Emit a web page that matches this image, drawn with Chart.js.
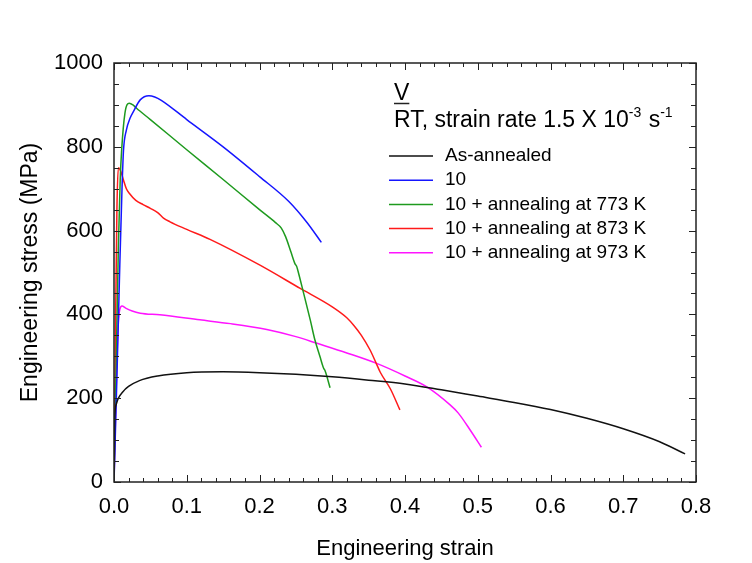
<!DOCTYPE html>
<html>
<head>
<meta charset="utf-8">
<script src="https://cdn.jsdelivr.net/npm/chart.js@4.4.0/dist/chart.umd.min.js"></script>
<style>
  html, body { margin: 0; padding: 0; background: #fff; }
  #wrap { width: 752px; height: 563px; }
</style>
</head>
<body>
<div id="wrap"><canvas id="chart" width="752" height="563"></canvas></div>
<script>
// tensile curves: engineering strain vs engineering stress (MPa)
const seriesLabels = ['As-annealed', '10', '10 + annealing at 773 K', '10 + annealing at 873 K', '10 + annealing at 973 K'];
const seriesColors = ['#111111', '#1515ff', '#1e9a1e', '#ff1a1a', '#ff14ff'];

const annealedStrain = [0, 0.001, 0.003, 0.006, 0.012, 0.02, 0.035, 0.06, 0.1, 0.15, 0.2, 0.25, 0.3, 0.35, 0.4, 0.45, 0.5, 0.55, 0.6, 0.65, 0.7, 0.75, 0.785];
const annealedStress = [0, 150, 185, 200, 215, 228, 242, 253, 261, 263, 261, 257, 251, 243, 234, 220, 205, 190, 173, 152, 127, 96, 67];

const rolledStrain = [0, 0.004, 0.008, 0.011, 0.013, 0.017, 0.022, 0.027, 0.036, 0.048, 0.056, 0.065, 0.1, 0.15, 0.2, 0.24, 0.265, 0.285];
const rolledStress = [0, 250, 520, 700, 790, 840, 868, 885, 912, 922, 919, 911, 865, 800, 729, 670, 620, 572];

const at773Strain = [0, 0.003, 0.006, 0.0085, 0.0105, 0.015, 0.021, 0.026, 0.031, 0.05, 0.1, 0.15, 0.2, 0.222, 0.23, 0.236, 0.243, 0.249, 0.251, 0.253, 0.26, 0.27, 0.276, 0.283, 0.288, 0.29, 0.297];
const at773Stress = [0, 280, 560, 720, 792, 880, 904, 900, 892, 865, 793, 722, 650, 619, 606, 585, 550, 520, 515, 503, 455, 385, 340, 300, 272, 266, 225];

const at873Strain = [0, 0.002, 0.004, 0.006, 0.009, 0.013, 0.017, 0.021, 0.03, 0.04, 0.05, 0.06, 0.068, 0.077, 0.1, 0.132, 0.2, 0.256, 0.3, 0.32, 0.33, 0.34, 0.352, 0.36, 0.366, 0.38, 0.393];
const at873Stress = [0, 350, 650, 750, 743, 721, 700, 689, 672, 662, 653, 643, 630, 621, 603, 579, 518, 462, 418, 392, 373, 350, 315, 285, 262, 222, 172];

const at973Strain = [0, 0.002, 0.004, 0.006, 0.008, 0.011, 0.016, 0.025, 0.036, 0.063, 0.118, 0.16, 0.21, 0.25, 0.279, 0.32, 0.361, 0.4, 0.43, 0.462, 0.473, 0.49, 0.505];
const at973Stress = [0, 150, 290, 380, 412, 420, 415, 408, 403, 399, 387, 378, 364, 347, 331, 308, 283, 253, 227, 184, 165, 123, 83];

const strainTicks = { min: 0, max: 0.8, step: 0.1, minor: 0.02 };
const stressTicks = { min: 0, max: 1000, step: 200, minor: 50 };

const headerTitle = 'V';
const headerCondition = ['RT, strain rate 1.5 X 10', '-3', ' s', '-1'];

const FONT = "'Liberation Sans', Arial, sans-serif";

const toPoints = (xs, ys) => xs.map((v, i) => ({ x: v, y: ys[i] }));
const curves = [
  toPoints(annealedStrain, annealedStress),
  toPoints(rolledStrain, rolledStress),
  toPoints(at773Strain, at773Stress),
  toPoints(at873Strain, at873Stress),
  toPoints(at973Strain, at973Stress)
];

// box frame, inward ticks on all four sides and the key in the upper right
const frameAndKey = {
  id: 'frameAndKey',
  afterDatasetsDraw(chart) {
    const { ctx, chartArea: a, scales: { x, y } } = chart;
    ctx.save();

    ctx.strokeStyle = '#222';
    ctx.lineWidth = 1.5;
    ctx.strokeRect(a.left, a.top, a.right - a.left, a.bottom - a.top);

    ctx.lineWidth = 1;
    ctx.beginPath();
    const nx = Math.round((strainTicks.max - strainTicks.min) / strainTicks.minor);
    const perX = Math.round(strainTicks.step / strainTicks.minor);
    for (let i = 0; i <= nx; i++) {
      const len = i % perX === 0 ? 7 : 4;
      const px = Math.round(x.getPixelForValue(strainTicks.min + i * strainTicks.minor)) + 0.5;
      ctx.moveTo(px, a.bottom); ctx.lineTo(px, a.bottom - len);
      ctx.moveTo(px, a.top); ctx.lineTo(px, a.top + len);
    }
    const ny = Math.round((stressTicks.max - stressTicks.min) / stressTicks.minor);
    const perY = Math.round(stressTicks.step / stressTicks.minor);
    for (let i = 0; i <= ny; i++) {
      const len = i % perY === 0 ? 7 : 5;
      const py = Math.round(y.getPixelForValue(stressTicks.min + i * stressTicks.minor)) + 0.5;
      ctx.moveTo(a.left, py); ctx.lineTo(a.left + len, py);
      ctx.moveTo(a.right, py); ctx.lineTo(a.right - len, py);
    }
    ctx.stroke();

    // key header
    const kx = a.left + 280;
    ctx.fillStyle = '#000';
    ctx.textAlign = 'left';
    ctx.textBaseline = 'alphabetic';
    ctx.font = '23px ' + FONT;
    ctx.fillText(headerTitle, kx, a.top + 37);
    const vw = ctx.measureText(headerTitle).width;
    ctx.lineWidth = 1.5;
    ctx.beginPath();
    ctx.moveTo(kx, a.top + 40.5); ctx.lineTo(kx + vw, a.top + 40.5);
    ctx.stroke();

    let cx = kx;
    const base = a.top + 64;
    headerCondition.forEach((part, i) => {
      const sup = i % 2 === 1;
      ctx.font = (sup ? '14px ' : '23px ') + FONT;
      ctx.fillText(part, cx, sup ? base - 10 : base);
      cx += ctx.measureText(part).width + (sup ? 1 : 0);
    });

    // key entries
    ctx.font = '19px ' + FONT;
    ctx.textBaseline = 'middle';
    seriesLabels.forEach((label, i) => {
      const ly = a.top + 93 + i * 24.2;
      ctx.strokeStyle = seriesColors[i];
      ctx.lineWidth = 1.5;
      ctx.beginPath();
      ctx.moveTo(a.left + 275, ly); ctx.lineTo(a.left + 319, ly);
      ctx.stroke();
      ctx.fillText(label, a.left + 331, ly);
    });

    ctx.restore();
  }
};

new Chart(document.getElementById('chart'), {
  type: 'line',
  data: {
    datasets: curves.map((pts, i) => ({
      label: seriesLabels[i],
      data: pts,
      borderColor: seriesColors[i],
      borderWidth: 1.5,
      pointRadius: 0,
      fill: false,
      cubicInterpolationMode: 'monotone'
    }))
  },
  options: {
    responsive: false,
    animation: false,
    events: [],
    layout: { padding: { left: 17, right: 56, top: 63, bottom: 1 } },
    plugins: { legend: { display: false }, tooltip: { enabled: false } },
    scales: {
      x: {
        type: 'linear',
        min: strainTicks.min,
        max: strainTicks.max,
        grid: { display: false, drawTicks: false },
        border: { display: false },
        ticks: {
          stepSize: strainTicks.step,
          padding: 12,
          color: '#000',
          font: { family: FONT, size: 22 },
          callback: v => v.toFixed(1)
        },
        title: {
          display: true,
          text: 'Engineering strain',
          color: '#000',
          padding: 0,
          font: { family: FONT, size: 22 }
        },
        afterFit: s => { s.height = 80; }
      },
      y: {
        type: 'linear',
        min: stressTicks.min,
        max: stressTicks.max,
        grid: { display: false, drawTicks: false },
        border: { display: false },
        ticks: {
          stepSize: stressTicks.step,
          padding: 11,
          color: '#000',
          font: { family: FONT, size: 22 },
          callback: v => String(v)
        },
        title: {
          display: true,
          text: 'Engineering stress (MPa)',
          color: '#000',
          padding: 0,
          font: { family: FONT, size: 23 }
        },
        afterFit: s => { s.width = 97; }
      }
    }
  },
  plugins: [frameAndKey]
});
</script>
</body>
</html>
